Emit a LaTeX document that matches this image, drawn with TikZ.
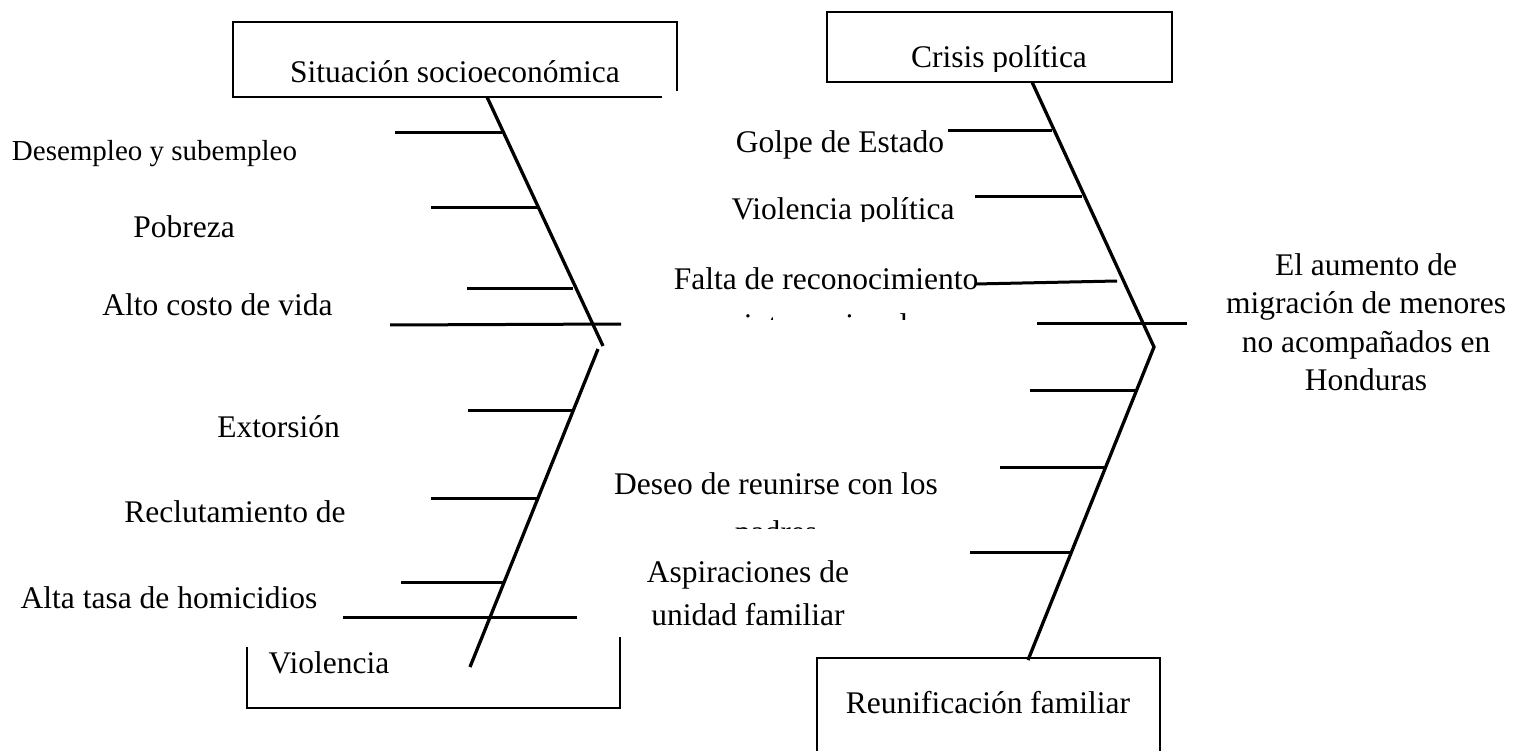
\documentclass[tikz,border=0pt]{standalone}
\usepackage{fontspec}
\setmainfont{Liberation Serif}
\newcommand\labfont{\fontsize{31.5}{38}\selectfont}
\newcommand\smallfont{\fontsize{29}{35}\selectfont}
\tikzset{
  spine/.style={line width=3.3pt},
  rib/.style={line width=3pt},
  frame/.style={line width=2pt},
  lab/.style={font=\labfont, inner sep=0pt, anchor=base},
}
\begin{document}
\begin{tikzpicture}[x=1pt,y=-1pt]
\useasboundingbox (0,0) rectangle (1514,751);

% ---- frames ----
\draw[frame] (662,97) -- (233,97) -- (233,22) -- (677,22) -- (677,91);
\draw[frame] (827,12) rectangle (1172,82);
\draw[frame] (247,647) -- (247,708) -- (620,708) -- (620,637);
\draw[frame] (817,753) -- (817,658) -- (1160,658) -- (1160,753);

% ---- category texts ----
\node[lab] (socio) at (455,83) {Situación socioeconómica};
\begin{scope}
  \clip (850,20) rectangle (1150,72);
  \node[lab] (crisis) at (999,68) {Crisis política};
\end{scope}
\node[lab] (viol) at (329,673) {Violencia};
\node[lab] (reuni) at (988,713) {Reunificación familiar};

% ---- spines ----
\coordinate (lu1) at (487,97);
\coordinate (lu2) at (603,346);
\coordinate (ll1) at (598,349);
\coordinate (ll2) at (470,667);
\coordinate (ru1) at (1032,82);
\coordinate (ru2) at (1154,347);
\coordinate (rl2) at (1028,660);
\draw[spine] (lu1) -- (lu2);
\draw[spine] (ll1) -- (ll2);
\draw[spine] (ru1) -- (ru2) -- (rl2);

% ---- main horizontal lines ----
\coordinate (ml1) at (390,325);
\coordinate (ml2) at (621,324);
\coordinate (mr1) at (1037,323);
\coordinate (mr2) at (1187,323);
\draw[rib] (ml1) -- (ml2);
\draw[rib] (mr1) -- (mr2);

% ---- left ribs ----
\coordinate (a1) at (395,133); \coordinate (a2) at (502,133);
\coordinate (b1) at (431,208); \coordinate (b2) at (537,208);
\coordinate (c1) at (467,288); \coordinate (c2) at (573,288);
\coordinate (d1) at (468,410); \coordinate (d2) at (573,410);
\coordinate (e1) at (431,498); \coordinate (e2) at (537,498);
\coordinate (f1) at (401,582); \coordinate (f2) at (505,582);
\coordinate (g1) at (343,617); \coordinate (g2) at (577,617);
\foreach \p in {a,b,c,d,e,f,g} \draw[rib] (\p1) -- (\p2);

% ---- right ribs ----
\coordinate (h1) at (948,131); \coordinate (h2) at (1052,131);
\coordinate (i1) at (975,197); \coordinate (i2) at (1082,197);
\coordinate (j1) at (975,284); \coordinate (j2) at (1117,281);
\coordinate (k1) at (1030,390); \coordinate (k2) at (1136,390);
\coordinate (l1) at (1000,467); \coordinate (l2) at (1105,467);
\coordinate (m1) at (970,552); \coordinate (m2) at (1071,552);
\foreach \p in {h,i,j,k,l,m} \draw[rib] (\p1) -- (\p2);

% ---- left labels ----
\node[lab, font=\smallfont] (desem) at (154.5,161) {Desempleo y subempleo};
\node[lab] (pobre) at (184,237) {Pobreza};
\node[lab] (costo) at (217.5,315) {Alto costo de vida};
\node[lab] (extor) at (278.5,437) {Extorsión};
\node[lab] (reclu) at (235,522) {Reclutamiento de};
\node[lab] (homic) at (169,608) {Alta tasa de homicidios};

% ---- right labels ----
\node[lab] (golpe) at (840,153) {Golpe de Estado};
\begin{scope}
  \clip (700,180) rectangle (990,222);
  \node[lab] (vpol) at (843,220) {Violencia política};
\end{scope}
\node[lab] (falta) at (826,289) {Falta de reconocimiento};
\begin{scope}
  \clip (700,300) rectangle (990,319.5);
  \node[lab] (inter) at (826,335) {internacional};
\end{scope}
\node[lab] (deseo) at (776,494) {Deseo de reunirse con los};
\begin{scope}
  \clip (700,505) rectangle (900,528);
  \node[lab] (padres) at (776,542) {padres};
\end{scope}
\node[lab] (aspi1) at (748,582) {Aspiraciones de};
\node[lab] (aspi2) at (748,625) {unidad familiar};

% ---- effect ----
\node[lab] (eff1) at (1366,275) {El aumento de};
\node[lab] (eff2) at (1366,313.5) {migración de menores};
\node[lab] (eff3) at (1366,352) {no acompañados en};
\node[lab] (eff4) at (1366,390.5) {Honduras};
\end{tikzpicture}
\end{document}
